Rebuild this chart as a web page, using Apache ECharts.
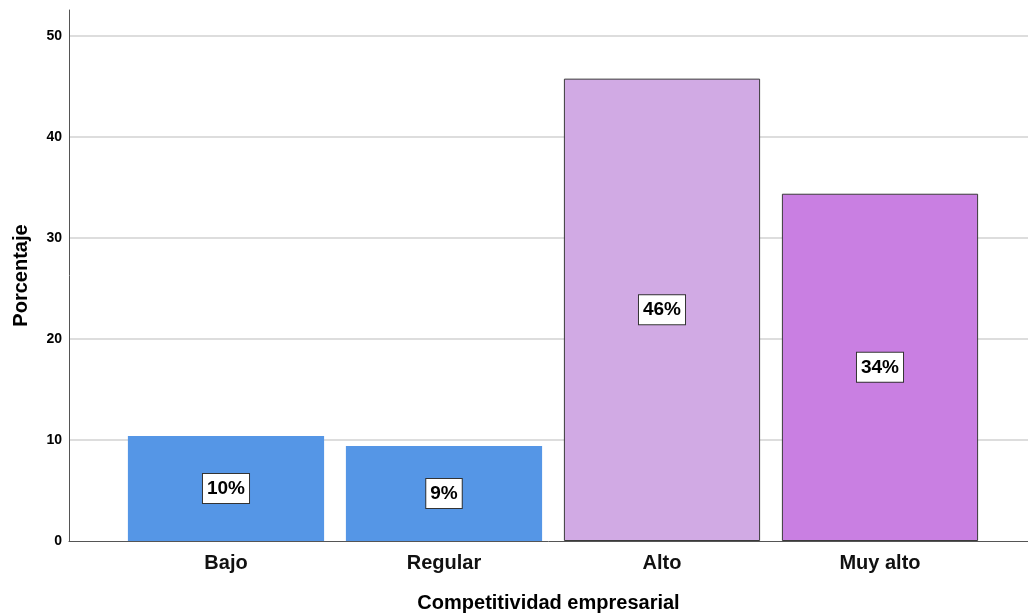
<!DOCTYPE html>
<html>
<head>
<meta charset="utf-8">
<script src="https://cdn.jsdelivr.net/npm/echarts@6/dist/echarts.min.js"></script>
<style>
  html, body { margin: 0; padding: 0; background: #fff; }
  #chart { width: 1028px; height: 613px; }
</style>
</head>
<body>
<div id="chart"></div>
<script>
// Competitividad empresarial: distribución porcentual por nivel
const categories = ['Bajo', 'Regular', 'Alto', 'Muy alto'];
const percentages = [10.4, 9.4, 45.8, 34.4];
const barColors = ['#5596e6', '#5596e6', '#d1aae4', '#c97fe2'];
const barBorders = ['#5596e6', '#5596e6', '#3a3a3a', '#3a3a3a'];
const yTicks = { min: 0, max: 52.6, interval: 10 };

const boldFont = '"Liberation Sans", Arial, sans-serif';
const narrowFont = '"Liberation Sans Narrow", "Liberation Sans", Arial, sans-serif';

const chart = echarts.init(document.getElementById('chart'), null, { renderer: 'canvas' });

const barData = percentages.map((v, i) => ({
  value: v,
  itemStyle: { color: barColors[i], borderColor: barBorders[i], borderWidth: i < 2 ? 0 : 1 }
}));

chart.setOption({
  animation: false,
  backgroundColor: '#ffffff',
  grid: [
    // frame: axes, gridlines and titles
    { left: 69, right: 0, top: 10, bottom: 72, outerBoundsMode: 'none', containLabel: false },
    // bars
    { left: 117, right: 39, top: 10, bottom: 72, outerBoundsMode: 'none', containLabel: false }
  ],
  xAxis: [
    {
      gridIndex: 0, type: 'value', min: 0, max: 1,
      axisLine: { show: true, onZero: false, lineStyle: { color: '#555', width: 1 } },
      axisTick: { show: false }, axisLabel: { show: false }, splitLine: { show: false },
      name: 'Competitividad empresarial', nameLocation: 'middle', nameGap: 52,
      nameTextStyle: { fontFamily: boldFont, fontWeight: 'bold', fontSize: 20, color: '#000' }
    },
    {
      gridIndex: 1, type: 'category', data: categories,
      axisLine: { show: false }, axisTick: { show: false },
      axisLabel: { margin: 12, fontFamily: boldFont, fontWeight: 'bold', fontSize: 20, color: '#111' }
    }
  ],
  yAxis: [
    {
      gridIndex: 0, type: 'value', min: yTicks.min, max: yTicks.max, interval: yTicks.interval,
      axisLine: { show: true, lineStyle: { color: '#555', width: 1 } },
      axisTick: { show: false },
      axisLabel: {
        showMaxLabel: false, margin: 7,
        fontFamily: narrowFont, fontWeight: 'bold', fontSize: 14, color: '#000',
        formatter: v => (v % 10 === 0 ? String(v) : '')
      },
      splitLine: { show: true, showMaxLine: false, showMinLine: false, lineStyle: { color: '#d2d2d2', width: 1.5 } },
      name: 'Porcentaje', nameLocation: 'middle', nameGap: 38,
      nameTextStyle: { fontFamily: boldFont, fontWeight: 'bold', fontSize: 20, color: '#000' }
    },
    {
      gridIndex: 1, type: 'value', min: yTicks.min, max: yTicks.max,
      show: false, splitLine: { show: false }
    }
  ],
  series: [{
    type: 'bar',
    xAxisIndex: 1, yAxisIndex: 1,
    data: barData,
    barCategoryGap: '10%',
    label: {
      show: true, position: 'inside',
      formatter: p => Math.round(p.value) + '%',
      fontFamily: boldFont, fontWeight: 'bold', fontSize: 19, color: '#000',
      backgroundColor: '#fff', borderColor: '#333', borderWidth: 1,
      padding: [5, 4, 4, 4], lineHeight: 20
    }
  }]
});
</script>
</body>
</html>
